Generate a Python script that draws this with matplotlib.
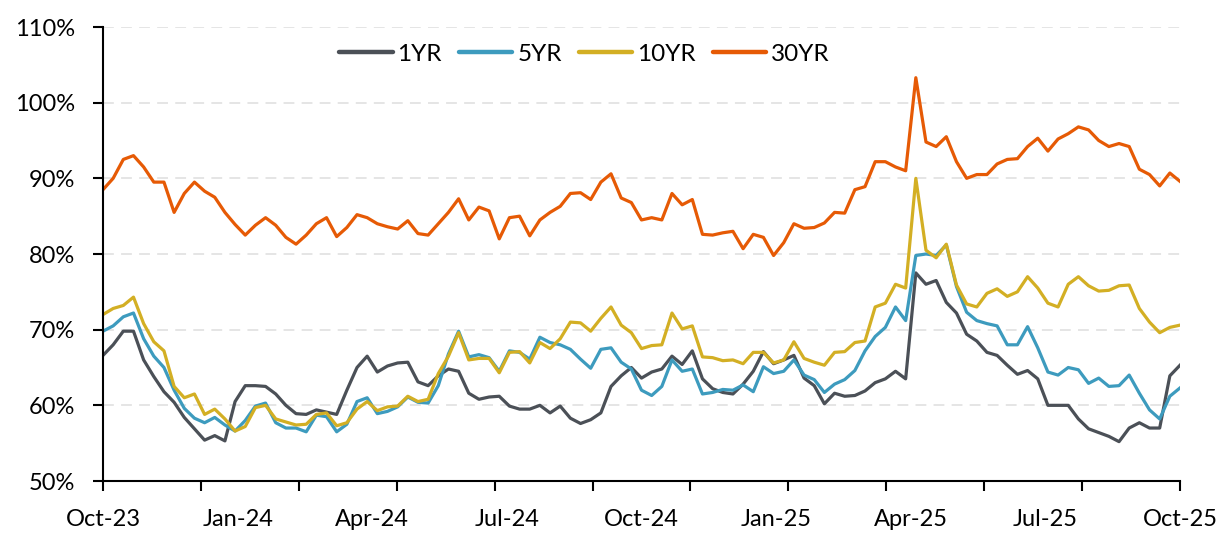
import matplotlib
matplotlib.use("Agg")
import matplotlib.pyplot as plt
import numpy as np

# Weekly readings (Oct-23 .. Oct-25), values in %
yr1 = [66.6, 68, 69.8, 69.8, 66, 63.8, 61.8, 60.4, 58.4, 56.9,
       55.4, 56, 55.3, 60.5, 62.6, 62.6, 62.5, 61.5, 60, 58.9,
       58.8, 59.4, 59.1, 58.8, 62, 65, 66.5, 64.4, 65.2, 65.6,
       65.7, 63.1, 62.6, 63.9, 64.8, 64.5, 61.6, 60.8, 61.1, 61.2,
       59.9, 59.5, 59.5, 60, 59, 59.9, 58.3, 57.6, 58.1, 59,
       62.5, 63.9, 65, 63.6, 64.4, 64.8, 66.5, 65.4, 67.2, 63.5,
       62.2, 61.7, 61.5, 62.8, 64.5, 67.1, 65.5, 66, 66.6, 63.6,
       62.6, 60.2, 61.6, 61.2, 61.3, 61.9, 63, 63.5, 64.5, 63.5,
       77.5, 76, 76.5, 73.6, 72.2, 69.4, 68.5, 67, 66.6, 65.3,
       64.1, 64.6, 63.5, 60, 60, 60, 58.2, 56.9, 56.4, 55.9,
       55.2, 57, 57.7, 57, 57, 63.9, 65.3]

yr5 = [69.8, 70.5, 71.7, 72.2, 68.8, 66.5, 65, 62, 59.6, 58.3,
       57.7, 58.4, 57.4, 56.6, 58, 59.9, 60.3, 57.7, 57, 57,
       56.5, 58.7, 58.5, 56.5, 57.5, 60.5, 61, 58.9, 59.2, 59.8,
       61.1, 60.4, 60.3, 62.6, 66.8, 69.8, 66.4, 66.7, 66.3, 64.5,
       67.2, 67, 66.1, 69, 68.3, 68, 67.4, 66.1, 64.9, 67.4,
       67.6, 65.7, 64.8, 62, 61.3, 62.5, 66, 64.5, 64.8, 61.5,
       61.7, 62.1, 62, 62.7, 61.8, 65.1, 64.2, 64.5, 66, 64,
       63.4, 61.7, 62.8, 63.4, 64.6, 67.2, 69.1, 70.3, 73, 71.2,
       79.8, 80, 79.8, 81.2, 75.7, 72.3, 71.2, 70.8, 70.5, 68,
       68, 70.4, 67.6, 64.4, 64, 65, 64.7, 62.9, 63.6, 62.5,
       62.6, 64, 61.6, 59.4, 58.2, 61.2, 62.3]

yr10 = [72, 72.8, 73.2, 74.3, 70.8, 68.4, 67.2, 62.5, 61, 61.5,
        58.8, 59.5, 58.2, 56.6, 57.2, 59.7, 60, 58.2, 57.8, 57.4,
        57.5, 58.8, 59, 57.3, 57.7, 59.5, 60.5, 59.3, 59.8, 59.9,
        61.2, 60.5, 60.8, 64.2, 66.5, 69.6, 66, 66.2, 66.2, 64.3,
        67, 67.1, 65.6, 68.3, 67.5, 68.8, 71, 70.9, 69.8, 71.5,
        73, 70.6, 69.6, 67.5, 67.9, 68, 72.2, 70.1, 70.5, 66.4,
        66.3, 65.9, 66, 65.5, 67, 67, 65.6, 66, 68.4, 66.2,
        65.7, 65.3, 67, 67.1, 68.3, 68.5, 73, 73.5, 76, 75.5,
        90, 80.5, 79.5, 81.3, 75.9, 73.4, 73, 74.8, 75.4, 74.4,
        75, 77, 75.5, 73.5, 73, 76, 77, 75.8, 75.1, 75.2,
        75.8, 75.9, 72.8, 71, 69.6, 70.3, 70.6]

yr30 = [88.5, 90, 92.5, 93, 91.5, 89.5, 89.5, 85.5, 88, 89.5,
        88.3, 87.5, 85.5, 83.9, 82.5, 83.8, 84.8, 83.8, 82.2, 81.3,
        82.5, 84, 84.8, 82.3, 83.5, 85.2, 84.8, 84, 83.6, 83.3,
        84.4, 82.7, 82.5, 84, 85.5, 87.3, 84.5, 86.2, 85.7, 82,
        84.8, 85, 82.4, 84.5, 85.5, 86.3, 88, 88.1, 87.2, 89.5,
        90.6, 87.4, 86.8, 84.5, 84.8, 84.5, 88, 86.5, 87.2, 82.6,
        82.5, 82.8, 83, 80.7, 82.6, 82.2, 79.8, 81.5, 84, 83.4,
        83.5, 84.1, 85.5, 85.4, 88.5, 88.9, 92.2, 92.2, 91.5, 91,
        103.3, 94.8, 94.2, 95.5, 92.2, 90, 90.5, 90.5, 91.9, 92.5,
        92.6, 94.2, 95.3, 93.6, 95.2, 95.9, 96.8, 96.4, 95, 94.2,
        94.6, 94.2, 91.2, 90.5, 89, 90.7, 89.6]

series_names = ["1YR", "5YR", "10YR", "30YR"]
series_colors = ["#4B5057", "#3D9BBE", "#D3AF24", "#E65A05"]
x_labels = ["Oct-23", "Jan-24", "Apr-24", "Jul-24", "Oct-24",
            "Jan-25", "Apr-25", "Jul-25", "Oct-25"]
y_ticks = [50, 60, 70, 80, 90, 100, 110]

plt.rcParams['font.family'] = ['Lato', 'DejaVu Sans']

fig = plt.figure(figsize=(12.21, 5.35), dpi=100)
ax = fig.add_axes([103 / 1221, 1 - 481 / 535, (1180 - 103) / 1221, (481 - 27) / 535])

n = len(yr1)
x = np.arange(n)
for data, name, col in zip([yr1, yr5, yr10, yr30], series_names, series_colors):
    ax.plot(x, data, color=col, lw=2.3, label=name, solid_joinstyle='round')

ax.set_xlim(0, n - 1)
ax.set_ylim(50, 110)
ax.set_yticks(y_ticks)
ax.set_yticklabels([f"{v}%" for v in y_ticks])

# tick marks (Excel-style interval) and labels
ax.xaxis.remove_overlapping_locs = False
ax.set_xticks(np.linspace(0, n - 1, 12))
ax.set_xticklabels([])
ax.set_xticks(np.linspace(0, n - 1, len(x_labels)), minor=True)
ax.set_xticklabels(x_labels, minor=True)
ax.tick_params(axis='x', which='major', length=7, width=1.5, color='black', direction='out')
ax.tick_params(axis='x', which='minor', length=0, pad=20, labelsize=17)
ax.tick_params(axis='y', length=7, width=1.5, color='black', direction='out', pad=13, labelsize=17)

for s in ['top', 'right']:
    ax.spines[s].set_visible(False)
for s in ['left', 'bottom']:
    ax.spines[s].set_linewidth(1.5)
    ax.spines[s].set_color('black')

ax.grid(axis='y', color='#e3e3e3', lw=1.3, linestyle=(0, (6, 4)))
ax.set_axisbelow(True)

leg = ax.legend(loc='center', bbox_to_anchor=(0.447, 0.94), ncol=4, frameon=False,
                fontsize=17.5, handlelength=2.2, handletextpad=0.2, columnspacing=0.7)
for line in leg.get_lines():
    line.set_linewidth(3.2)
    line.set_solid_capstyle('round')

fig.savefig("out.png", dpi=100)
